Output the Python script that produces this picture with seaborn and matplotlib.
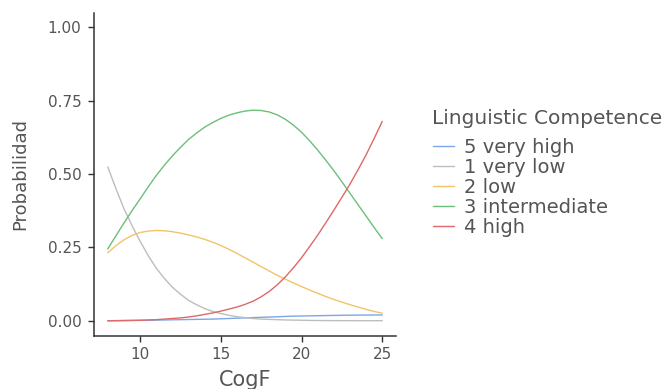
import numpy as np
import pandas as pd
import matplotlib
matplotlib.use("Agg")
import matplotlib.pyplot as plt
import seaborn as sns

# CogF values and predicted probabilities per competence level
cogf = [8, 8.5, 9, 9.5, 10, 10.5, 11, 11.5, 12, 12.5, 13, 13.5, 14, 14.5, 15, 15.5,
        16, 16.5, 17, 17.5, 18, 18.5, 19, 19.5, 20, 20.5, 21, 21.5, 22, 22.5, 23,
        23.5, 24, 24.5, 25]
p_very_high = [0.0005, 0.0007, 0.001, 0.0013, 0.0017, 0.002, 0.0025, 0.003, 0.0035,
               0.004, 0.0045, 0.005, 0.0055, 0.006, 0.007, 0.008, 0.009, 0.010, 0.011,
               0.012, 0.013, 0.014, 0.015, 0.016, 0.0165, 0.017, 0.0175, 0.018, 0.0185,
               0.019, 0.0193, 0.0196, 0.0198, 0.0199, 0.020]
p_very_low = [0.525, 0.452, 0.383, 0.325, 0.272, 0.223, 0.180, 0.145, 0.115, 0.091,
              0.070, 0.055, 0.042, 0.032, 0.025, 0.019, 0.014, 0.011, 0.008, 0.006,
              0.005, 0.004, 0.003, 0.0025, 0.002, 0.0015, 0.001, 0.001, 0.0008, 0.0007,
              0.0006, 0.0005, 0.0005, 0.0005, 0.0005]
p_low = [0.232, 0.256, 0.276, 0.291, 0.301, 0.306, 0.308, 0.307, 0.304, 0.299,
         0.293, 0.286, 0.278, 0.268, 0.257, 0.244, 0.230, 0.215, 0.200, 0.185,
         0.170, 0.155, 0.142, 0.129, 0.117, 0.105, 0.094, 0.083, 0.073, 0.064,
         0.055, 0.047, 0.039, 0.032, 0.026]
p_intermediate = [0.245, 0.289, 0.333, 0.375, 0.415, 0.456, 0.495, 0.530, 0.562, 0.591,
                  0.618, 0.640, 0.660, 0.676, 0.690, 0.701, 0.709, 0.715, 0.718, 0.717,
                  0.712, 0.702, 0.687, 0.667, 0.643, 0.614, 0.582, 0.548, 0.512, 0.474,
                  0.435, 0.396, 0.357, 0.318, 0.280]
p_high = [0.000, 0.0005, 0.001, 0.0015, 0.002, 0.003, 0.004, 0.006, 0.008, 0.010,
          0.013, 0.017, 0.022, 0.027, 0.033, 0.040, 0.047, 0.056, 0.067, 0.082,
          0.100, 0.123, 0.150, 0.181, 0.215, 0.253, 0.292, 0.334, 0.377, 0.421,
          0.466, 0.515, 0.566, 0.622, 0.680]

levels = ["5 very high", "1 very low", "2 low", "3 intermediate", "4 high"]
colors = ["#7ba7e8", "#bdbdbd", "#f1c46a", "#6cbf78", "#e06868"]
y_ticks = [0.00, 0.25, 0.50, 0.75, 1.00]
x_ticks = [10, 15, 20, 25]

series = [p_very_high, p_very_low, p_low, p_intermediate, p_high]
df = pd.concat([pd.DataFrame({"CogF": cogf, "Probabilidad": vals, "Linguistic Competence": lvl})
                for lvl, vals in zip(levels, series)], ignore_index=True)

sns.set_style("ticks")
plt.rcParams["font.family"] = ["DejaVu Sans"]

fig = plt.figure(figsize=(6.67, 3.89), dpi=100)
ax = fig.add_axes([0.1409, 0.1375, 0.4528, 0.8296])

sns.lineplot(data=df, x="CogF", y="Probabilidad", hue="Linguistic Competence",
             hue_order=levels, palette=colors, linewidth=1.0, ax=ax)

ax.set_xlim(7.15, 25.85)
ax.set_ylim(-0.05, 1.05)
ax.set_xticks(x_ticks)
ax.set_yticks(y_ticks)
ax.set_yticklabels([f"{v:.2f}" for v in y_ticks])
ax.tick_params(axis="both", labelsize=11, colors="#333333", labelcolor="#555555",
               length=4, width=1.0)
ax.tick_params(axis="y", pad=5)
ax.tick_params(axis="x", pad=4)
for s in ["left", "bottom"]:
    ax.spines[s].set_color("#333333")
    ax.spines[s].set_linewidth(1.1)
sns.despine(ax=ax)

ax.set_xlabel("CogF", fontsize=15, color="#555555", labelpad=6)
ax.set_ylabel("Probabilidad", fontsize=13, color="#555555", labelpad=13)

# legend title placed separately to get the wider gap of the original
fig.text(432 / 667, 1 - 118 / 389, "Linguistic Competence", fontsize=14.5,
         color="#555555", ha="left", va="center")
leg = ax.legend(loc="upper left", bbox_to_anchor=(0.649, 0.645),
                bbox_transform=fig.transFigure, frameon=False, fontsize=14,
                handlelength=1.1, handletextpad=0.5, labelspacing=0.05,
                borderpad=0, borderaxespad=0)
for t in leg.get_texts():
    t.set_color("#555555")

fig.savefig("out.png", dpi=100)
